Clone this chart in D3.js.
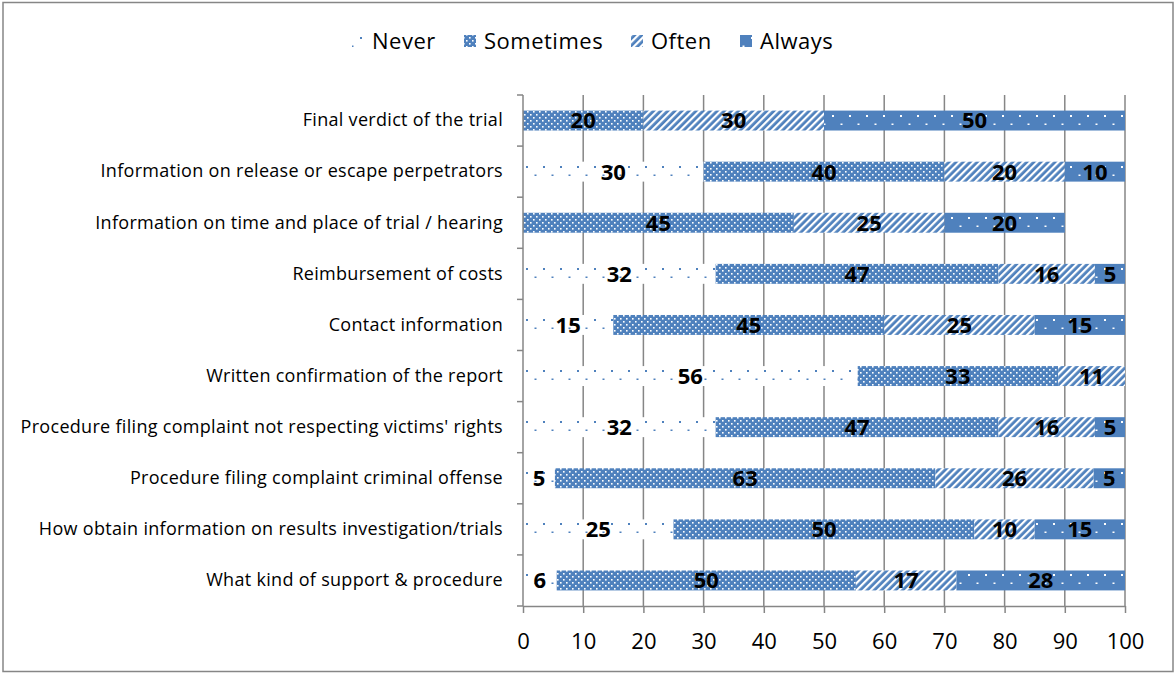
<!DOCTYPE html>
<html>
<head>
<meta charset="utf-8">
<script src="https://cdn.jsdelivr.net/npm/d3@7"></script>
<style>
    body { margin: 0; background: #fff; }
    svg { display: block; font-family: "Open Sans", "Noto Sans", sans-serif; }
</style>
</head>
<body>
<svg id="chart" width="1176" height="675"></svg>
<script>
/////////////////////////////////
// Stacked horizontal bar chart, pattern fills.
//

// Categories, top row first.
const categories = [
    "Final verdict of the trial",
    "Information on release or escape perpetrators",
    "Information on time and place of trial / hearing",
    "Reimbursement of costs",
    "Contact information",
    "Written confirmation of the report",
    "Procedure filing complaint not respecting victims' rights",
    "Procedure filing complaint criminal offense",
    "How obtain information on results investigation/trials",
    "What kind of support & procedure"
];

const seriesNames = ["Never", "Sometimes", "Often", "Always"];

// Series values (percent), same order as categories.
const never     = [0, 30, 0, 32, 15, 55.6, 32, 5.3, 25, 5.6];
const sometimes = [20, 40, 45, 47, 45, 33.3, 47, 63.2, 50, 49.7];
const often     = [30, 20, 25, 16, 25, 11.1, 16, 26.3, 10, 16.7];
const always    = [50, 10, 20, 5, 15, 0, 5, 5.2, 15, 28];

const xTicks = [0, 10, 20, 30, 40, 50, 60, 70, 80, 90, 100];

document.addEventListener("DOMContentLoaded", () => {

    const svg = d3.select("#chart");
    const blue = "#4F81BD";
    const grey = "#868686";

    const margin = { left: 523, right: 51, top: 95, bottom: 69 };
    const width = 1176 - margin.left - margin.right;
    const height = 675 - margin.top - margin.bottom;

    // Pattern fills.
    const defs = svg.append("defs");

    const pNever = defs.append("pattern")
        .attr("id", "pNever")
        .attr("patternUnits", "userSpaceOnUse")
        .attr("width", 17).attr("height", 17);
    pNever.append("rect").attr("width", 17).attr("height", 17).attr("fill", "#fff");
    pNever.append("rect").attr("x", 3).attr("y", 3).attr("width", 2).attr("height", 2).attr("fill", blue);
    pNever.append("rect").attr("x", 11.5).attr("y", 11.5).attr("width", 2).attr("height", 1.5).attr("fill", blue);

    const pSometimes = defs.append("pattern")
        .attr("id", "pSometimes")
        .attr("patternUnits", "userSpaceOnUse")
        .attr("width", 6).attr("height", 6);
    pSometimes.append("rect").attr("width", 6).attr("height", 6).attr("fill", blue);
    pSometimes.append("rect").attr("x", 1).attr("y", 1).attr("width", 1.6).attr("height", 1.6).attr("fill", "#fff");
    pSometimes.append("rect").attr("x", 4).attr("y", 4).attr("width", 1.6).attr("height", 1.6).attr("fill", "#fff");

    const pOften = defs.append("pattern")
        .attr("id", "pOften")
        .attr("patternUnits", "userSpaceOnUse")
        .attr("width", 5).attr("height", 5)
        .attr("patternTransform", "rotate(45)");
    pOften.append("rect").attr("width", 5).attr("height", 5).attr("fill", blue);
    pOften.append("rect").attr("width", 2.2).attr("height", 5).attr("fill", "#fff");

    const pAlways = defs.append("pattern")
        .attr("id", "pAlways")
        .attr("patternUnits", "userSpaceOnUse")
        .attr("width", 17).attr("height", 17);
    pAlways.append("rect").attr("width", 17).attr("height", 17).attr("fill", blue);
    pAlways.append("rect").attr("x", 3).attr("y", 3).attr("width", 2).attr("height", 2).attr("fill", "#fff");
    pAlways.append("rect").attr("x", 11.5).attr("y", 11.5).attr("width", 2).attr("height", 1.5).attr("fill", "#fff");

    const fills = ["url(#pNever)", "url(#pSometimes)", "url(#pOften)", "url(#pAlways)"];

    // Outer frame.
    svg.append("rect")
        .attr("x", 3).attr("y", 2.5)
        .attr("width", 1170).attr("height", 669)
        .attr("fill", "none")
        .attr("stroke", grey)
        .attr("stroke-width", 1.5);

    // Build stack table from the arrays.
    const table = categories.map((c, i) => ({
        category: c,
        Never: never[i],
        Sometimes: sometimes[i],
        Often: often[i],
        Always: always[i]
    }));
    const stacked = d3.stack().keys(seriesNames)(table);

    const x = d3.scaleLinear().domain([0, 100]).range([0, width]);
    const y = d3.scaleBand().domain(categories).range([0, height]).paddingInner(0.61).paddingOuter(0.305);

    const g = svg.append("g").attr("transform", `translate(${margin.left},${margin.top})`);

    // Vertical gridlines.
    g.append("g")
        .selectAll("line")
        .data(xTicks.slice(1))
        .join("line")
        .attr("x1", (d) => x(d)).attr("x2", (d) => x(d))
        .attr("y1", 0).attr("y2", height)
        .attr("stroke", grey)
        .attr("stroke-width", 1.5);

    // Bars.
    stacked.forEach((layer, si) => {

        g.append("g")
            .selectAll("rect")
            .data(layer.filter((d) => d[1] - d[0] > 0))
            .join("rect")
            .attr("x", (d) => x(d[0]))
            .attr("y", (d) => y(d.data.category))
            .attr("width", (d) => x(d[1]) - x(d[0]))
            .attr("height", y.bandwidth())
            .attr("fill", fills[si]);
    });

    // Data labels.
    stacked.forEach((layer) => {

        g.append("g")
            .selectAll("text")
            .data(layer.filter((d) => d[1] - d[0] > 0))
            .join("text")
            .attr("x", (d) => x((d[0] + d[1]) / 2))
            .attr("y", (d) => y(d.data.category) + y.bandwidth() / 2)
            .attr("dy", "0.36em")
            .attr("text-anchor", "middle")
            .attr("font-size", 22)
            .attr("font-weight", "bold")
            .attr("fill", "#000")
            .text((d) => Math.round(d[1] - d[0]));
    });

    // Y axis (category labels on the left).
    const yAxis = g.append("g")
        .call(d3.axisLeft(y).tickSize(0).tickPadding(20));
    yAxis.select(".domain").remove();
    yAxis.selectAll("text")
        .attr("font-size", 18)
        .attr("letter-spacing", 0.3)
        .attr("font-family", "Open Sans, sans-serif")
        .attr("fill", "#000");

    // Left axis line with ticks between categories.
    const bounds = d3.range(categories.length + 1).map((i) => i * height / categories.length);
    g.append("line")
        .attr("x1", 0).attr("x2", 0)
        .attr("y1", 0).attr("y2", height)
        .attr("stroke", grey).attr("stroke-width", 1.5);
    g.append("g")
        .selectAll("line")
        .data(bounds)
        .join("line")
        .attr("x1", -6).attr("x2", 0)
        .attr("y1", (d) => d).attr("y2", (d) => d)
        .attr("stroke", grey).attr("stroke-width", 1.5);

    // X axis.
    const xAxis = g.append("g")
        .attr("transform", `translate(0,${height})`)
        .call(d3.axisBottom(x).tickValues(xTicks).tickSize(7).tickPadding(20).tickSizeOuter(0));
    xAxis.select(".domain").attr("stroke", grey).attr("stroke-width", 1.5);
    xAxis.selectAll(".tick line").attr("stroke", grey).attr("stroke-width", 1.5);
    xAxis.selectAll("text")
        .attr("font-size", 22)
        .attr("font-family", "Open Sans, sans-serif")
        .attr("fill", "#000");

    // Legend.
    const legendItems = [
        { name: "Never", mx: 352, tx: 372 },
        { name: "Sometimes", mx: 464, tx: 484 },
        { name: "Often", mx: 631, tx: 651 },
        { name: "Always", mx: 740, tx: 760 }
    ];
    const legend = svg.append("g");
    legendItems.forEach((item, i) => {

        legend.append("rect")
            .attr("x", item.mx).attr("y", 35)
            .attr("width", 12).attr("height", 12)
            .attr("fill", fills[i]);
        legend.append("text")
            .attr("x", item.tx).attr("y", 41)
            .attr("dy", "0.36em")
            .attr("font-size", 22)
            .attr("letter-spacing", 0.5)
            .attr("fill", "#000")
            .text(item.name);
    });
});
</script>
</body>
</html>
